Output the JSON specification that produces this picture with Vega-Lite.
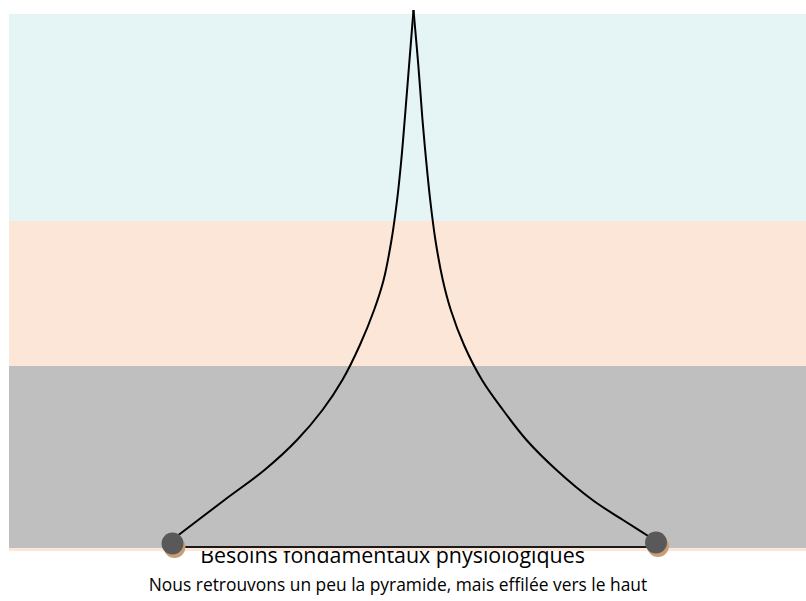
{
  "$schema": "https://vega.github.io/schema/vega-lite/v6.json",
  "width": 806,
  "height": 601,
  "padding": 0,
  "autosize": {"type": "none"},
  "background": "white",
  "config": {"view": {"stroke": null}},
  "datasets": {
    "bands": [
      {"band": "Niveau haut", "x0": 9, "x1": 806, "y0": 380, "y1": 587},
      {"band": "Niveau moyen", "x0": 9, "x1": 806, "y0": 235, "y1": 380},
      {"band": "Niveau bas", "x0": 9, "x1": 806, "y0": 53, "y1": 235},
      {"band": "Liseré", "x0": 9, "x1": 806, "y0": 50, "y1": 53}
    ],
    "curve": [
      {"branch": "gauche", "x": 172, "y": 61},
      {"branch": "gauche", "x": 224.5, "y": 101},
      {"branch": "gauche", "x": 264.5, "y": 131},
      {"branch": "gauche", "x": 297, "y": 161},
      {"branch": "gauche", "x": 322.5, "y": 191},
      {"branch": "gauche", "x": 342.4, "y": 221},
      {"branch": "gauche", "x": 359.9, "y": 256},
      {"branch": "gauche", "x": 374.1, "y": 291},
      {"branch": "gauche", "x": 383.6, "y": 321},
      {"branch": "gauche", "x": 391.5, "y": 361},
      {"branch": "gauche", "x": 397.1, "y": 401},
      {"branch": "gauche", "x": 401.3, "y": 441},
      {"branch": "gauche", "x": 404.7, "y": 481},
      {"branch": "gauche", "x": 409.1, "y": 536},
      {"branch": "gauche", "x": 413.5, "y": 591},
      {"branch": "droite", "x": 413.5, "y": 591},
      {"branch": "droite", "x": 418.3, "y": 536},
      {"branch": "droite", "x": 422.5, "y": 481},
      {"branch": "droite", "x": 426.1, "y": 441},
      {"branch": "droite", "x": 430.2, "y": 401},
      {"branch": "droite", "x": 435.4, "y": 361},
      {"branch": "droite", "x": 442.8, "y": 321},
      {"branch": "droite", "x": 450.8, "y": 291},
      {"branch": "droite", "x": 464, "y": 256},
      {"branch": "droite", "x": 482, "y": 221},
      {"branch": "droite", "x": 503, "y": 191},
      {"branch": "droite", "x": 526.5, "y": 161},
      {"branch": "droite", "x": 556.5, "y": 131},
      {"branch": "droite", "x": 592.5, "y": 101},
      {"branch": "droite", "x": 623, "y": 81},
      {"branch": "droite", "x": 656, "y": 60}
    ],
    "base": [{"x": 173, "x2": 656, "y": 54}],
    "nodes": [
      {"node": "gauche", "x": 172.5, "y": 57.5},
      {"node": "droite", "x": 656, "y": 58.5}
    ],
    "shadows": [
      {"node": "gauche", "x": 174.5, "y": 54},
      {"node": "droite", "x": 658, "y": 55}
    ],
    "title": [{"label": "Besoins fondamentaux physiologiques", "x": 392.5, "y": 38}],
    "note": [{"label": "Nous retrouvons un peu la pyramide, mais effilée vers le haut", "x": 398, "y": 10}]
  },
  "encoding": {
    "x": {"field": "x", "type": "quantitative", "scale": {"domain": [0, 806], "nice": false, "zero": false}, "axis": null},
    "y": {"field": "y", "type": "quantitative", "scale": {"domain": [0, 601], "nice": false, "zero": false}, "axis": null}
  },
  "layer": [
    {
      "data": {"name": "title"},
      "mark": {"type": "text", "font": "Open Sans", "fontSize": 21.4, "color": "#000000", "align": "center", "baseline": "alphabetic"},
      "encoding": {"text": {"field": "label"}}
    },
    {
      "data": {"name": "note"},
      "mark": {"type": "text", "font": "Open Sans", "fontSize": 17.4, "color": "#000000", "align": "center", "baseline": "alphabetic"},
      "encoding": {"text": {"field": "label"}}
    },
    {
      "data": {"name": "bands"},
      "mark": {"type": "rect", "opacity": 1},
      "encoding": {
        "x": {"field": "x0", "type": "quantitative", "scale": {"domain": [0, 806], "nice": false, "zero": false}, "axis": null},
        "x2": {"field": "x1"},
        "y": {"field": "y0", "type": "quantitative", "scale": {"domain": [0, 601], "nice": false, "zero": false}, "axis": null},
        "y2": {"field": "y1"},
        "color": {
          "field": "band", "type": "nominal", "legend": null,
          "scale": {"domain": ["Niveau haut", "Niveau moyen", "Niveau bas", "Liseré"], "range": ["#E5F4F5", "#FBE6D8", "#BFBFBF", "#FBE6D8"]}
        }
      }
    },
    {
      "data": {"name": "base"},
      "mark": {"type": "rule", "color": "#1a1a1a", "strokeWidth": 2},
      "encoding": {"x2": {"field": "x2"}}
    },
    {
      "data": {"name": "curve"},
      "mark": {"type": "line", "interpolate": "catmull-rom", "orient": "vertical", "color": "#000000", "strokeWidth": 2},
      "encoding": {"detail": {"field": "branch"}}
    },
    {
      "data": {"name": "shadows"},
      "mark": {"type": "point", "shape": "circle", "filled": true, "opacity": 1, "color": "#C99E76", "size": 480},
      "encoding": {}
    },
    {
      "data": {"name": "nodes"},
      "mark": {"type": "point", "shape": "circle", "filled": true, "opacity": 1, "color": "#595959", "size": 480},
      "encoding": {}
    }
  ]
}
